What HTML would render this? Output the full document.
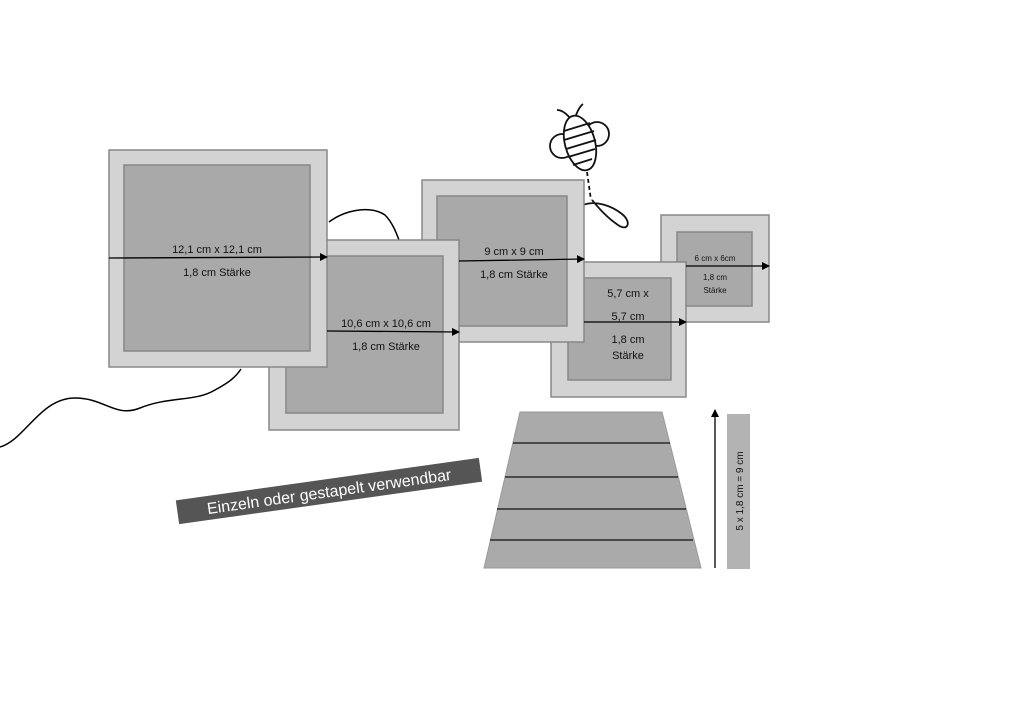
<!DOCTYPE html>
<html><head><meta charset="utf-8"><style>
html,body{margin:0;padding:0;background:#fff}
svg{display:block}
text{font-family:"Liberation Sans",sans-serif;fill:#111}
</style></head><body>
<svg width="1024" height="726" viewBox="0 0 1024 726" xmlns="http://www.w3.org/2000/svg">
<defs><marker id="ah" markerWidth="8" markerHeight="8" refX="7" refY="4" orient="auto" markerUnits="userSpaceOnUse"><path d="M0,0 L8,4 L0,8 z" fill="#000"/></marker></defs>
<path d="M0,447 C25,440 40,398 75,398 C105,398 115,418 140,408 C170,396 195,402 215,390 C228,383 235,378 241,369" fill="none" stroke="#000" stroke-width="1.5"/>
<path d="M329,222 C345,210 370,205 385,215 C392,222 396,232 399,240" fill="none" stroke="#000" stroke-width="1.5"/>
<g fill="none" stroke="#111" stroke-width="1.8">
<path d="M570,118 C565,112 561,110 557,110"/>
<path d="M576,115 C578,110 580,106 583,104"/>
<circle cx="562" cy="146" r="12" fill="#fff"/>
<circle cx="597" cy="134" r="12" fill="#fff"/>
<ellipse cx="580" cy="143" rx="15" ry="28" transform="rotate(-15 580 143)" fill="#fff"/>
<path d="M564,131 L590,123 M564,140 L594,131 M566,149 L596,140 M568,157 L595,149 M573,165 L592,159"/>
<path d="M587,172 L591,200" stroke-dasharray="4,3"/>
<path d="M583,205 C596,200 612,206 622,214 C632,222 628,232 618,225 C606,217 598,207 592,200"/>
</g>
<g stroke="#888" stroke-width="1.5">
<rect x="661" y="215" width="108" height="107" fill="#d3d3d3"/><rect x="677" y="232" width="75" height="74" fill="#a9a9a9"/>
<rect x="551" y="262" width="135" height="135" fill="#d3d3d3"/><rect x="568" y="278" width="103" height="102" fill="#a9a9a9"/>
<rect x="422" y="180" width="162" height="162" fill="#d3d3d3"/><rect x="437" y="196" width="130" height="130" fill="#a9a9a9"/>
<rect x="269" y="240" width="190" height="190" fill="#d3d3d3"/><rect x="286" y="256" width="157" height="157" fill="#a9a9a9"/>
<rect x="109" y="150" width="218" height="217" fill="#d3d3d3"/><rect x="124" y="165" width="186" height="186" fill="#a9a9a9"/>
</g>
<g stroke="#000" stroke-width="1.3" marker-end="url(#ah)">
<line x1="109" y1="258" x2="327" y2="257"/>
<line x1="327" y1="331" x2="459" y2="332"/>
<line x1="459" y1="261" x2="584" y2="259"/>
<line x1="584" y1="322" x2="686" y2="322"/>
<line x1="686" y1="266" x2="769" y2="266"/>
<line x1="715" y1="568" x2="715" y2="410"/>
</g>
<g font-size="11" text-anchor="middle">
<text x="217" y="253">12,1 cm x 12,1 cm</text>
<text x="217" y="276">1,8 cm Stärke</text>
<text x="386" y="327">10,6 cm x 10,6 cm</text>
<text x="386" y="350">1,8 cm Stärke</text>
<text x="514" y="255">9 cm x 9 cm</text>
<text x="514" y="278">1,8 cm Stärke</text>
<text x="628" y="297">5,7 cm x</text>
<text x="628" y="320">5,7 cm</text>
<text x="628" y="343">1,8 cm</text>
<text x="628" y="359">Stärke</text>
<text x="715" y="261" font-size="8">6 cm x 6cm</text>
<text x="715" y="280" font-size="8">1,8 cm</text>
<text x="715" y="293" font-size="8">Stärke</text>
</g>
<path d="M520,412 L662,412 L701,568 L484,568 Z" fill="#aaa" stroke="#999"/>
<g stroke="#111" stroke-width="1.3"><line x1="513" y1="443" x2="670" y2="443"/><line x1="505" y1="477" x2="678" y2="477"/><line x1="497" y1="509" x2="686" y2="509"/><line x1="490" y1="540" x2="693" y2="540"/></g>
<rect x="727" y="414" width="23" height="155" fill="#b3b3b3"/>
<text transform="translate(743,491) rotate(-90)" font-size="10" text-anchor="middle">5 x 1,8 cm = 9 cm</text>
<g transform="translate(329,491) rotate(-8)">
<rect x="-153" y="-12" width="306" height="24" fill="#555"/>
<text x="0" y="6" font-size="16" text-anchor="middle" style="fill:#fff">Einzeln oder gestapelt verwendbar</text>
</g>
</svg>
</body></html>
